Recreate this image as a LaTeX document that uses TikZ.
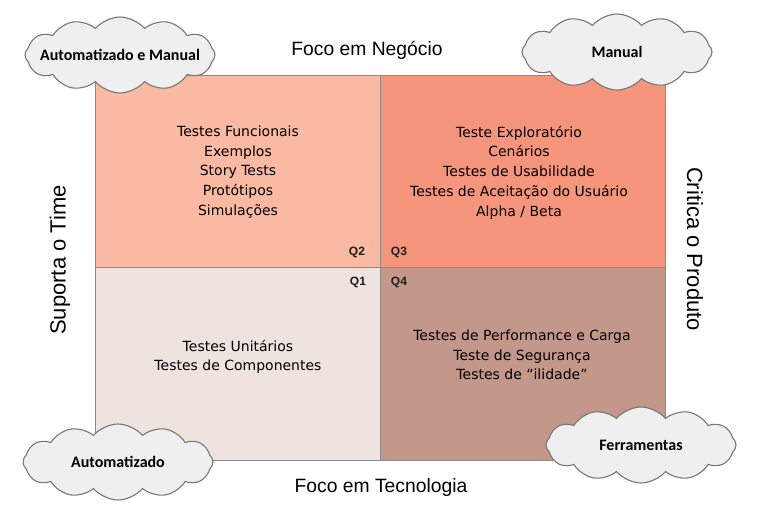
\documentclass[tikz,border=0pt]{standalone}
\usepackage{fontspec}
\setmainfont{DejaVu Sans}
\newfontfamily\axisfont{Liberation Sans}
\newfontfamily\cloudfont{Carlito}
\usetikzlibrary{shapes.symbols}
\definecolor{qtwo}{HTML}{F9B9A3}
\definecolor{qthree}{HTML}{F5957B}
\definecolor{qone}{HTML}{EFE3E0}
\definecolor{qfour}{HTML}{C4978B}
\definecolor{cloudfill}{HTML}{EFEFEF}
\definecolor{cloudline}{HTML}{777777}
\definecolor{gridline}{HTML}{8A8A8A}
\tikzset{
  quadtext/.style={align=center, font=\fontsize{14}{19.7}\selectfont, text=black},
  qlabel/.style={font=\axisfont\fontsize{12}{13}\selectfont\bfseries, text=black!88},
  axislabel/.style={font=\axisfont\fontsize{19.3}{21}\selectfont, text=black},
  sidelabel/.style={font=\axisfont\fontsize{22}{24}\selectfont, text=black},
  cloudbox/.style={cloud, cloud puffs=12, cloud puff arc=100, cloud ignores aspect,
    draw=cloudline, fill=cloudfill, line width=1.1pt, inner sep=0pt,
    minimum width=190pt, minimum height=76pt,
    font=\cloudfont\fontsize{16}{18}\selectfont\bfseries, text=black},
}
\begin{document}
\begin{tikzpicture}[x=1pt,y=-1pt]
\useasboundingbox (0,0) rectangle (769,527);
% quadrants
\fill[qtwo] (95,75) rectangle (380,267);
\fill[qthree] (380,75) rectangle (665,267);
\fill[qone] (95,267) rectangle (380,460);
\fill[qfour] (380,267) rectangle (665,460);
\draw[gridline, line width=0.6pt] (95,75) rectangle (665,460);
\draw[gridline, line width=0.8pt] (380,75) -- (380,460);
\draw[gridline, line width=0.8pt] (95,267) -- (665,267);
% quadrant texts
\node[quadtext] (q2t) at (238,172) {Testes Funcionais\\Exemplos\\Story Tests\\Protótipos\\Simulações};
\node[quadtext] (q3t) at (519,172.5) {Teste Exploratório\\Cenários\\Testes de Usabilidade\\Testes de Aceitação do Usuário\\Alpha / Beta};
\node[quadtext] (q1t) at (238,357) {Testes Unitários\\Testes de Componentes};
\node[quadtext] (q4t) at (522,355) {Testes de Performance e Carga\\Teste de Segurança\\Testes de “ilidade”};
% quadrant labels
\node[qlabel] (q2) at (357,252) {Q2};
\node[qlabel] (q3) at (399,252) {Q3};
\node[qlabel] (q1) at (358,282) {Q1};
\node[qlabel] (q4) at (399,282) {Q4};
% axis labels
\node[axislabel] (top) at (367,50) {Foco em Negócio};
\node[axislabel] (bottom) at (381,488) {Foco em Tecnologia};
\node[sidelabel, rotate=90] (left) at (60,260) {Suporta o Time};
\node[sidelabel, rotate=-90] (right) at (695,249) {Critica o Produto};
% clouds
\node[cloudbox] (c1) at (120,55) {\makebox[0pt]{Automatizado e Manual}};
\node[cloudbox] (c2) at (617,52) {\makebox[0pt]{Manual}};
\node[cloudbox] (c3) at (118,462) {\makebox[0pt]{Automatizado}};
\node[cloudbox] (c4) at (641,445) {\makebox[0pt]{Ferramentas}};
\end{tikzpicture}
\end{document}
